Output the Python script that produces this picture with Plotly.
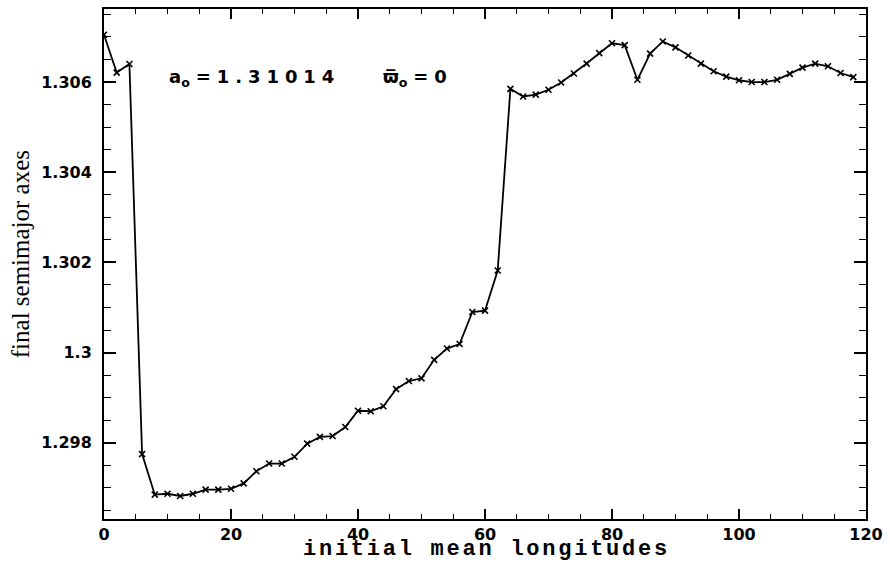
import plotly.graph_objects as go

# ---- data ----
longitudes = [0, 2, 4, 6, 8, 10, 12, 14, 16, 18, 20, 22, 24, 26, 28, 30, 32, 34, 36, 38,
              40, 42, 44, 46, 48, 50, 52, 54, 56, 58, 60, 62, 64, 66, 68, 70, 72, 74, 76, 78,
              80, 82, 84, 86, 88, 90, 92, 94, 96, 98, 100, 102, 104, 106, 108, 110, 112, 114, 116, 118]
semimajor = [1.30705, 1.30621, 1.30640, 1.29775, 1.29685, 1.29687, 1.29682, 1.29687, 1.29696, 1.29696,
             1.29698, 1.29710, 1.29737, 1.29754, 1.29754, 1.29769, 1.29798, 1.29813, 1.29815, 1.29835,
             1.29871, 1.29870, 1.29881, 1.29919, 1.29937, 1.29943, 1.29984, 1.30009, 1.30019, 1.30090,
             1.30093, 1.30182, 1.30585, 1.30568, 1.30572, 1.30583, 1.30599, 1.30619, 1.30641, 1.30664,
             1.30686, 1.30682, 1.30605, 1.30663, 1.30690, 1.30677, 1.30659, 1.30641, 1.30624, 1.30612,
             1.30604, 1.30600, 1.30600, 1.30605, 1.30618, 1.30632, 1.30641, 1.30635, 1.30620, 1.30611]

x_tick_vals = [0, 20, 40, 60, 80, 100, 120]
x_tick_text = ["0", "20", "40", "60", "80", "100", "120"]
y_tick_vals = [1.298, 1.300, 1.302, 1.304, 1.306]
y_tick_text = ["1.298", "1.3", "1.302", "1.304", "1.306"]

x_title = "initial mean longitudes"
y_title = "final semimajor axes"
sp = "\u2004"
label_a = "a<sub>o</sub>" + sp + "=" + sp + sp.join("1.31014")
label_w = "\u03d6\u0305<sub>o</sub>" + sp + "=" + sp + "0"
x_title_spaced = "\u200a\u200a".join(x_title)

fig = go.Figure()
fig.add_trace(go.Scatter(
    x=longitudes, y=semimajor, mode="lines+markers",
    line=dict(color="black", width=1.8),
    marker=dict(symbol="x-thin", size=6, line=dict(color="black", width=1.6), color="black"),
    showlegend=False, hoverinfo="skip",
))

tickfont = dict(family="DejaVu Sans", size=16, color="black", weight="bold")

fig.update_layout(
    width=890, height=563,
    margin=dict(l=104, r=19, t=7, b=44),
    paper_bgcolor="white", plot_bgcolor="white",
    xaxis=dict(
        range=[0, 120], showgrid=False, zeroline=False,
        showline=True, linecolor="black", linewidth=2, mirror="ticks",
        ticks="inside", ticklen=10, tickwidth=1.5, tickcolor="black",
        tickvals=x_tick_vals, ticktext=x_tick_text, tickfont=tickfont,
        ticklabelstandoff=0,
        minor=dict(ticks="inside", dtick=5, ticklen=5, tickwidth=1.2, tickcolor="black", showgrid=False),
    ),
    yaxis=dict(
        range=[1.29631, 1.30762], showgrid=False, zeroline=False,
        showline=True, linecolor="black", linewidth=2, mirror="ticks",
        ticks="inside", ticklen=12, tickwidth=1.5, tickcolor="black",
        tickvals=y_tick_vals, ticktext=y_tick_text, tickfont=tickfont,
        ticklabelstandoff=7,
        minor=dict(ticks="inside", dtick=0.0005, tick0=1.296, ticklen=7, tickwidth=1.2,
                   tickcolor="black", showgrid=False),
    ),
    annotations=[
        dict(text=y_title, xref="paper", yref="paper", x=-0.110, y=0.5195,
             xanchor="center", yanchor="middle", textangle=-90, showarrow=False,
             font=dict(family="Liberation Serif", size=25, color="black")),
        dict(text=x_title_spaced, xref="paper", yref="paper", x=0.5, y=-0.0605,
             xanchor="center", yanchor="middle", showarrow=False, borderpad=0,
             font=dict(family="Liberation Mono", size=22, color="black", weight="bold")),
        dict(text=label_a, xref="x", yref="y", x=23.2, y=1.3061,
             xanchor="center", yanchor="middle", showarrow=False,
             font=dict(family="DejaVu Sans", size=18, color="black", weight="bold")),
        dict(text=label_w, xref="x", yref="y", x=49.0, y=1.3061,
             xanchor="center", yanchor="middle", showarrow=False,
             font=dict(family="DejaVu Sans", size=18, color="black", weight="bold")),
    ],
)

fig.write_html("out.html")
